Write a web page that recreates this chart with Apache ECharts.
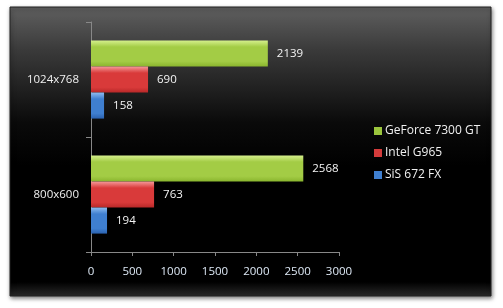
<!DOCTYPE html>
<html><head><meta charset="utf-8">
<script src="https://cdn.jsdelivr.net/npm/echarts@6/dist/echarts.min.js"></script>
<style>html,body{margin:0;padding:0;background:#fff;}#c{width:503px;height:308px;}</style>
</head><body><div id="c"></div>
<script>
const categories = ['1024x768', '800x600'];
const seriesNames = ['GeForce 7300 GT', 'Intel G965', 'SiS 672 FX'];
const geforce = [2139, 2568];
const intel = [690, 763];
const sis = [158, 194];
const xTicks = [0, 500, 1000, 1500, 2000, 2500, 3000];

const font = '"Open Sans", "DejaVu Sans", sans-serif';
function grad(top, mid, bot) {
  return new echarts.graphic.LinearGradient(0, 0, 0, 1, [
    {offset: 0, color: top}, {offset: 0.25, color: mid}, {offset: 0.8, color: mid}, {offset: 1, color: bot}
  ]);
}
const colors = [
  grad('#d6f08e', '#a3cc45', '#8ab52e'),
  grad('#f59a9a', '#d93a3a', '#b82828'),
  grad('#8fbcf0', '#3f7fd0', '#2b62b0')
];
const legendColors = ['#9bc53d', '#d33b3b', '#3f7fd0'];
const values = [geforce, intel, sis];

const chart = echarts.init(document.getElementById('c'));
chart.setOption({
  animation: false,
  graphic: [{
    type: 'rect', z: -10, silent: true,
    shape: {x: 10, y: 7, width: 481, height: 289},
    style: {
      fill: new echarts.graphic.LinearGradient(0, 0, 0, 1, [
        {offset: 0, color: '#606060'}, {offset: 0.15, color: '#3a3a3a'}, {offset: 0.4, color: '#0a0a0a'}, {offset: 0.55, color: '#000'}, {offset: 0.95, color: '#000'}, {offset: 1, color: '#2a2a2a'}
      ]),
      stroke: '#222', lineWidth: 1,
      shadowBlur: 4, shadowColor: 'rgba(0,0,0,0.5)', shadowOffsetX: 1, shadowOffsetY: 2
    }
  }],
  grid: {left: 91, top: 22, width: 248, height: 230, containLabel: false},
  legend: {
    orient: 'vertical', left: 369, top: 120, itemGap: 10,
    itemWidth: 8, itemHeight: 8, icon: 'rect',
    data: seriesNames.map((n, i) => ({name: n, itemStyle: {color: legendColors[i]}})),
    textStyle: {color: '#f0f0f0', fontSize: 12, fontFamily: font, padding: [0, 0, 0, -2]}
  },
  xAxis: {
    type: 'value', min: 0, max: 3000, interval: 500,
    axisLine: {show: true, lineStyle: {color: '#888'}},
    axisTick: {show: true, length: 4, inside: false, lineStyle: {color: '#888'}},
    splitLine: {show: false},
    axisLabel: {color: '#dde8f5', fontSize: 11.5, fontFamily: font, margin: 14,
      formatter: v => xTicks.includes(v) ? String(v) : ''}
  },
  yAxis: {
    type: 'category', data: categories, inverse: true,
    axisLine: {show: true, lineStyle: {color: '#888'}},
    axisTick: {show: true, length: 5, lineStyle: {color: '#888'}},
    axisLabel: {color: '#f0f0f0', fontSize: 11.5, fontFamily: font, margin: 12}
  },
  series: seriesNames.map((n, i) => ({
    name: n, type: 'bar', data: values[i],
    barGap: '0%', barCategoryGap: '32%',
    itemStyle: {color: colors[i]},
    label: {show: true, position: 'right', distance: 9, color: '#f4f4f4', fontSize: 11.5, fontFamily: font}
  }))
});
</script></body></html>
